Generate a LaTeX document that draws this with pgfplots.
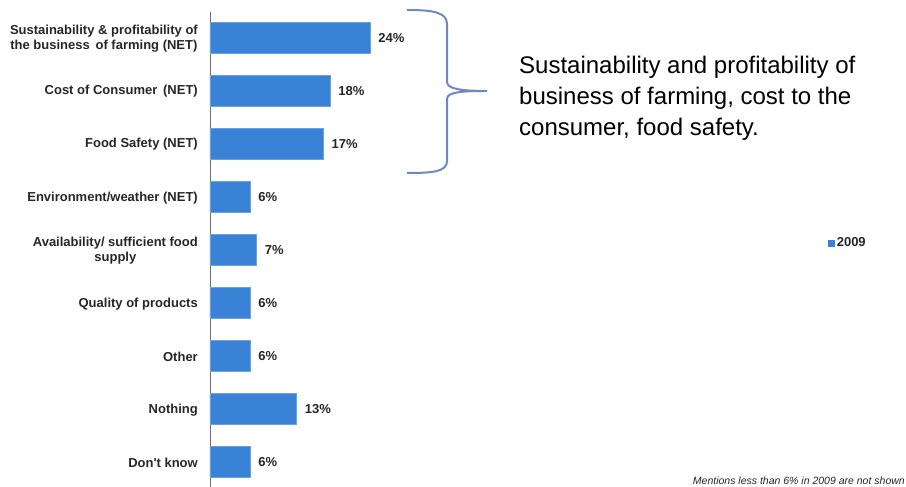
\documentclass[border=0pt]{standalone}
\usepackage{pgfplots}
\pgfplotsset{compat=1.18}
\usepackage{fontspec}
\setmainfont{Liberation Sans}
\definecolor{barblue}{RGB}{58,130,214}
\definecolor{bracecol}{RGB}{112,136,192}
\definecolor{axgray}{RGB}{110,110,110}
\begin{document}
\begin{tikzpicture}[x=1pt,y=1pt]
\path[use as bounding box] (0,0) rectangle (906,487);
\begin{axis}[
  at={(210pt,0pt)}, anchor=south west,
  scale only axis, width=160pt, height=475pt,
  xmin=0, xmax=24, ymin=-0.471, ymax=8.481,
  clip=false,
  xbar, bar width=31pt,
  axis x line=none, axis y line*=left,
  y axis line style={draw=axgray, line width=0.8pt, -},
  ytick={0,1,2,3,4,5,6,7,8},
  yticklabels={{Don\textquotesingle t know},{Nothing},{Other},{Quality of products},{Availability/ sufficient food\\supply},{Environment/weather (NET)},{Food Safety (NET)},{Cost of Consumer\, (NET)},{Sustainability \& profitability of\\the business\, of farming (NET)}},
  major tick length=0pt,
  yticklabel style={align=center, anchor=east, inner sep=0pt, xshift=-12pt, yshift=-1pt, font=\bfseries\fontsize{13}{14.5}\selectfont, text=black!85},
  /pgf/number format/assume math mode=true,
  nodes near coords={\pgfmathprintnumber{\pgfplotspointmeta}\%},
  every node near coord/.append style={anchor=west, inner sep=0pt, xshift=8pt, font=\bfseries\fontsize{13}{15}\selectfont, text=black!85},
  legend style={draw=none, fill=none, at={(3.8625,0.514)}, anchor=west, inner sep=0pt, font=\bfseries\fontsize{13}{15}\selectfont, text=black!85, nodes={inner sep=2pt}},
  legend image code/.code={\fill[barblue] (0pt,-3pt) rectangle (6pt,3pt);},
]
\addplot[fill=barblue, draw=barblue!75!white, line width=0.6pt] coordinates {
 (6,0) (13,1) (6,2) (6,3) (7,4) (6,5) (17,6) (18,7) (24,8)
};
\addlegendentry{2009}
\end{axis}
\draw[bracecol, line width=2pt] (407,477) .. controls (432,477) and (447,475) .. (447,463) -- (447,405) .. controls (447,398) and (462,396) .. (487,396)
 .. controls (462,396) and (447,395) .. (447,388) -- (447,326) .. controls (447,315) and (432,314) .. (407,314);
\node[anchor=north west, align=left, inner sep=0pt, font=\fontsize{24}{31}\selectfont, text=black] at (519,431) {Sustainability and profitability of\\business of farming, cost to the\\consumer, food safety.};
\node[anchor=base east, inner sep=0pt, font=\itshape\fontsize{10.5}{12}\selectfont, text=black!85] at (905,2) {Mentions less than 6\% in 2009 are not shown};
\end{tikzpicture}
\end{document}
